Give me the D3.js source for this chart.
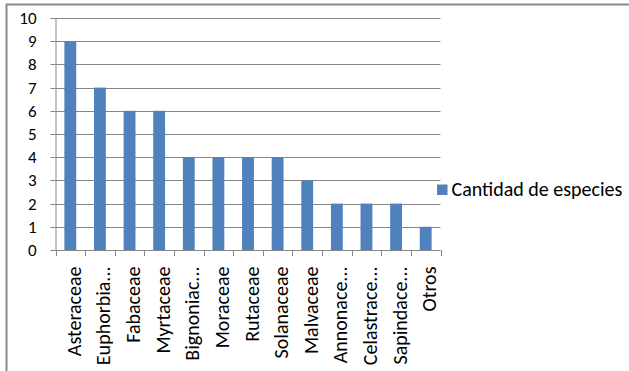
<!DOCTYPE html>
<html>
<head>
<meta charset="utf-8">
<script src="https://cdn.jsdelivr.net/npm/d3@7"></script>
<style>
  html, body { margin: 0; padding: 0; background: #fff; }
  svg { display: block; }
  text { font-family: Carlito, Lato, "Open Sans", sans-serif; fill: #000; }
</style>
</head>
<body>
<svg id="chart" width="629" height="371"></svg>
<script>
// Species count per plant family
const families = ["Asteraceae", "Euphorbia...", "Fabaceae", "Myrtaceae", "Bignoniac...",
  "Moraceae", "Rutaceae", "Solanaceae", "Malvaceae", "Annonace...", "Celastrace...",
  "Sapindace...", "Otros"];
const species = [9, 7, 6, 6, 4, 4, 4, 4, 3, 2, 2, 2, 1];
const yTicks = [0, 1, 2, 3, 4, 5, 6, 7, 8, 9, 10];
const seriesName = "Cantidad de especies";

const svg = d3.select("#chart");
const W = 629, H = 371;
const plot = { left: 55.5, right: 440.5, top: 18, bottom: 250 };
const barColor = "#4f81bd";
const lineColor = "#868686";

// outer frame
svg.append("rect")
  .attr("x", 6.5).attr("y", 4.5)
  .attr("width", W + 10).attr("height", H + 10)
  .attr("fill", "#fff")
  .attr("stroke", "#8a8a8a")
  .attr("stroke-width", 2);

const x = d3.scaleBand()
  .domain(families)
  .range([plot.left, plot.right])
  .paddingInner(0.6)
  .paddingOuter(0.3);

const y = d3.scaleLinear()
  .domain([0, 10])
  .range([plot.bottom, plot.top]);

// horizontal gridlines
svg.append("g")
  .selectAll("line")
  .data(yTicks.filter(d => d > 0))
  .join("line")
  .attr("x1", plot.left).attr("x2", plot.right)
  .attr("y1", d => Math.round(y(d)) + 0.5)
  .attr("y2", d => Math.round(y(d)) + 0.5)
  .attr("stroke", lineColor)
  .attr("stroke-width", 1);

// bars
svg.append("g")
  .selectAll("rect")
  .data(species)
  .join("rect")
  .attr("x", (d, i) => x(families[i]))
  .attr("width", x.bandwidth())
  .attr("y", d => y(d))
  .attr("height", d => y(0) - y(d))
  .attr("fill", barColor);

// y axis
const yAxis = d3.axisLeft(y)
  .tickValues(yTicks)
  .tickSize(5)
  .tickPadding(14)
  .tickFormat(d3.format("d"));
const gy = svg.append("g")
  .attr("transform", `translate(${plot.left},0)`)
  .call(yAxis);
gy.select(".domain").attr("stroke", lineColor);
gy.selectAll(".tick line").attr("stroke", lineColor);
gy.selectAll(".tick").attr("transform", d => `translate(0,${Math.round(y(d)) + 0.5})`);
gy.selectAll(".tick text")
  .style("font-size", "17px")
  .attr("fill", "#000");

// x axis: ticks sit at band boundaries
const gx = svg.append("g");
gx.append("line")
  .attr("x1", plot.left).attr("x2", plot.right)
  .attr("y1", plot.bottom + 0.5).attr("y2", plot.bottom + 0.5)
  .attr("stroke", lineColor);
gx.selectAll("line.tick")
  .data([plot.left].concat(families.map((f, i) => plot.left + x.step() * (i + 1))))
  .join("line")
  .attr("class", "tick")
  .attr("x1", d => Math.round(d) + 0.5).attr("x2", d => Math.round(d) + 0.5)
  .attr("y1", plot.bottom).attr("y2", plot.bottom + 6)
  .attr("stroke", lineColor);

// rotated category labels
gx.selectAll("text")
  .data(families)
  .join("text")
  .attr("transform", f => `translate(${x(f) + x.bandwidth() / 2 + 10.5},${plot.bottom + 16.5}) rotate(-90)`)
  .attr("text-anchor", "end")
  .style("font-size", "20px")
  .text(f => f);

// legend
const legend = svg.append("g").attr("transform", "translate(437,184.5)");
legend.append("rect")
  .attr("width", 10.5).attr("height", 10.5)
  .attr("fill", barColor);
legend.append("text")
  .attr("x", 14.5).attr("y", 11)
  .style("font-size", "20px")
  .text(seriesName);
</script>
</body>
</html>
